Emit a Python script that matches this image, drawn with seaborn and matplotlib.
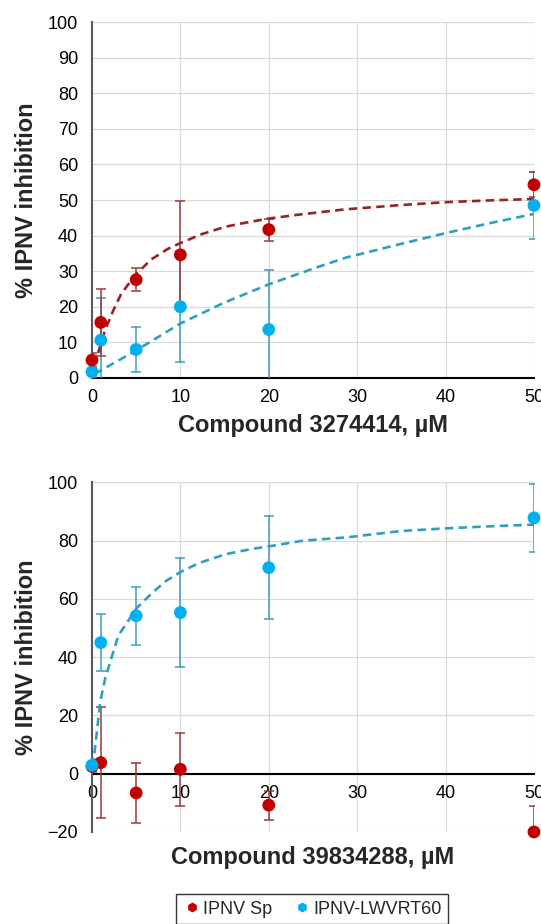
import matplotlib.pyplot as plt
import seaborn as sns
from matplotlib.lines import Line2D

# concentrations (µM)
conc = [0, 1, 5, 10, 20, 50]

# compound 3274414
c1_sp = [5.0, 15.6, 27.6, 34.6, 41.7, 54.3]
c1_sp_err = [2.0, 9.5, 3.2, 15.2, 3.1, 3.5]
c1_lw = [1.7, 10.6, 8.0, 20.0, 13.6, 48.5]
c1_lw_err = [1.5, 11.9, 6.3, 15.6, 16.7, 9.5]

# compound 39834288
c2_sp = [2.5, 3.8, -6.6, 1.5, -10.8, -20.0]
c2_sp_err = [2.0, 19.0, 10.3, 12.6, 5.0, 8.9]
c2_lw = [2.9, 45.0, 54.2, 55.3, 70.7, 87.8]
c2_lw_err = [2.0, 9.8, 10.0, 18.7, 17.7, 11.6]

# dashed fit curves
fit1_sp_x = [0.7, 1.45, 2.4, 3.3, 4.85, 6.7, 8.6, 10, 12.4, 15.1, 17.3, 20, 23.4, 28.7, 35, 40, 45, 50]
fit1_sp_y = [7, 13.2, 18.9, 23.6, 28.8, 33.3, 36.3, 37.9, 40.4, 42.5, 43.6, 44.8, 45.9, 47.4, 48.6, 49.4, 49.9, 50.3]
fit1_lw_x = [0.3, 4.85, 10, 15, 20, 25, 28.7, 35, 40, 45, 50]
fit1_lw_y = [1.1, 7.5, 15.3, 21.2, 26.3, 30.7, 33.8, 37.7, 40.7, 43.5, 46.1]
fit2_lw_x = [0.1, 0.95, 1.5, 2.3, 3.0, 4.0, 5.1, 6.8, 8.3, 10, 12.1, 15.2, 18.2, 20, 23.9, 28.8, 35, 40, 45, 50]
fit2_lw_y = [2.3, 24.9, 32.8, 40.7, 47.5, 52, 57, 62, 66, 69.2, 72.3, 75.4, 77.2, 78, 80, 81.1, 83.3, 84.2, 84.9, 85.5]

series_names = ['IPNV Sp', 'IPNV-LWVRT60']
xlabels = ['Compound 3274414, µM', 'Compound 39834288, µM']

RED = '#C00000'
RED_ERR = '#9B3B3B'
RED_FIT = '#962424'
BLUE = '#00B0F0'
BLUE_ERR = '#3D9DBF'
BLUE_FIT = '#2E9FBF'

sns.set_theme(style='white')
plt.rcParams['font.family'] = ['Liberation Sans', 'DejaVu Sans']

fig = plt.figure(figsize=(5.41, 9.24), dpi=100)
ax1 = fig.add_axes([0.170, 0.591, 0.817, 0.385])
ax2 = fig.add_axes([0.170, 0.0996, 0.817, 0.3784])


def style_axes(ax, ylim, yticks, xlabel):
    ax.set_xlim(0, 50)
    ax.set_ylim(*ylim)
    ax.set_xticks([0, 10, 20, 30, 40, 50])
    ax.set_yticks(yticks)
    ax.grid(True, color='#D9D9D9', linewidth=0.9)
    ax.set_axisbelow(True)
    for s in ['top', 'right']:
        ax.spines[s].set_visible(False)
    ax.spines['left'].set_color('#595959')
    ax.spines['left'].set_linewidth(1.5)
    ax.spines['bottom'].set_color('black')
    ax.spines['bottom'].set_linewidth(1.5)
    ax.spines['bottom'].set_position(('data', 0))
    ax.spines['bottom'].set_zorder(2)
    ax.tick_params(axis='both', length=0, labelsize=13, colors='black')
    ax.tick_params(axis='y', pad=10)
    ax.tick_params(axis='x', pad=8)
    ax.set_xlabel(xlabel, fontsize=17, fontweight='bold')
    ax.set_ylabel('% IPNV inhibition', fontsize=17, fontweight='bold')
    ax.yaxis.label.set_va('center')
    ax.xaxis.label.set_va('center')


def draw_points(ax, y, err, color, ecolor):
    ax.errorbar(conc, y, yerr=err, fmt='none', ecolor=ecolor, elinewidth=1.1,
                capsize=3.5, capthick=1.1, zorder=3)
    sns.scatterplot(x=conc, y=y, ax=ax, color=color, s=85, edgecolor='none',
                    clip_on=False, zorder=5)


DASH = (0, (3.2, 2.0))

# --- top panel
style_axes(ax1, (0, 100), range(0, 101, 10), xlabels[0])
draw_points(ax1, c1_lw, c1_lw_err, BLUE, BLUE_ERR)
draw_points(ax1, c1_sp, c1_sp_err, RED, RED_ERR)
sns.lineplot(x=fit1_sp_x, y=fit1_sp_y, ax=ax1, color=RED_FIT, linewidth=1.9,
             dashes=False, zorder=4, linestyle=DASH)
sns.lineplot(x=fit1_lw_x, y=fit1_lw_y, ax=ax1, color=BLUE_FIT, linewidth=1.9,
             dashes=False, zorder=4, linestyle=DASH)
ax1.xaxis.set_label_coords(0.5, -0.135)
ax1.yaxis.set_label_coords(-0.148, 0.5)

# --- bottom panel
style_axes(ax2, (-20, 100), range(-20, 101, 20), xlabels[1])
ax2.set_yticklabels(['\u221220', '0', '20', '40', '60', '80', '100'])
draw_points(ax2, c2_sp, c2_sp_err, RED, RED_ERR)
draw_points(ax2, c2_lw, c2_lw_err, BLUE, BLUE_ERR)
sns.lineplot(x=fit2_lw_x, y=fit2_lw_y, ax=ax2, color=BLUE_FIT, linewidth=1.9,
             dashes=False, zorder=4, linestyle=DASH)
ax2.xaxis.set_label_coords(0.5, -0.074)
ax2.yaxis.set_label_coords(-0.148, 0.5)

# legend
handles = [Line2D([], [], marker='h', linestyle='none', color=RED, markersize=6),
           Line2D([], [], marker='h', linestyle='none', color=BLUE, markersize=6)]
leg = fig.legend(handles, series_names, loc='center', bbox_to_anchor=(0.577, 0.016),
                 ncol=2, fontsize=13, frameon=True, fancybox=False,
                 handletextpad=0.1, columnspacing=1.2, handlelength=1.0,
                 borderpad=0.35)
leg.get_frame().set_edgecolor('black')
leg.get_frame().set_linewidth(1.0)

fig.savefig('out.png', dpi=100)
